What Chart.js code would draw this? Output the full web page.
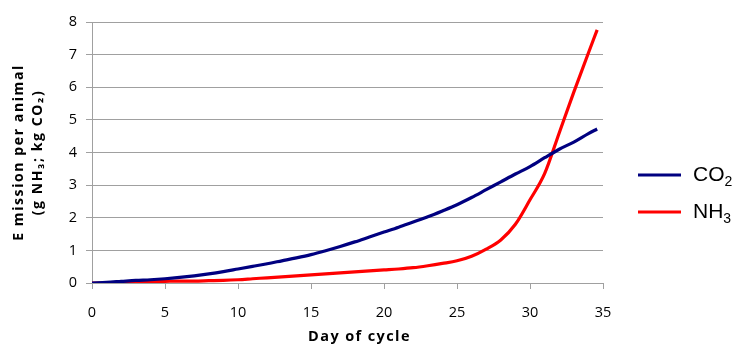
<!DOCTYPE html>
<html>
<head>
<meta charset="utf-8">
<script src="https://cdn.jsdelivr.net/npm/chart.js@4/dist/chart.umd.min.js"></script>
<style>
  html, body { margin: 0; padding: 0; background: #fff; }
  #wrap { width: 743px; height: 347px; position: relative; }
</style>
</head>
<body>
<div id="wrap"><canvas id="c" width="743" height="347"></canvas></div>
<script>
// Day of the production cycle
const days = [0, 1, 2, 3, 4, 5, 6, 7, 8, 9, 10, 11, 12, 13, 14, 15, 16, 17, 18, 19, 20,
  21, 22, 23, 24, 25, 26, 27, 28, 29, 30, 31, 32, 33, 34, 34.6];

// Cumulative CO2 emission per animal (kg)
const co2 = [0.00, 0.02, 0.05, 0.08, 0.10, 0.13, 0.17, 0.22, 0.28, 0.35, 0.43, 0.51, 0.59, 0.68,
  0.77, 0.87, 0.99, 1.12, 1.26, 1.41, 1.56, 1.71, 1.87, 2.03, 2.21, 2.40, 2.62, 2.86, 3.10,
  3.34, 3.57, 3.84, 4.10, 4.32, 4.58, 4.72];

// Cumulative NH3 emission per animal (g)
const nh3 = [0.00, 0.00, 0.01, 0.03, 0.04, 0.05, 0.06, 0.06, 0.07, 0.08, 0.10, 0.13, 0.16, 0.19,
  0.22, 0.25, 0.28, 0.31, 0.34, 0.37, 0.40, 0.43, 0.47, 0.53, 0.60, 0.68, 0.82, 1.04, 1.32,
  1.80, 2.55, 3.35, 4.60, 5.85, 7.05, 7.76];

const seriesNames = [['CO', '2'], ['NH', '3']];
const seriesColors = ['#000080', '#ff0000'];

const xTicks = [0, 5, 10, 15, 20, 25, 30, 35];
const yTicks = [0, 1, 2, 3, 4, 5, 6, 7, 8];

const xTitle = 'Day of cycle';
const yTitle = ['E mission per animal', '(g NH\u2083; kg CO\u2082)'];

const toPoints = (ys) => days.map((d, i) => ({ x: d, y: ys[i] }));

// Letter-spaced axis titles and a right-hand legend with subscripted formulas
const chartText = {
  id: 'chartText',
  afterDraw(chart) {
    const ctx = chart.ctx;
    const area = chart.chartArea;
    ctx.save();
    ctx.fillStyle = '#000';
    ctx.textAlign = 'center';
    ctx.textBaseline = 'middle';

    // x-axis title
    ctx.font = 'bold 14.5px "Open Sans", sans-serif';
    ctx.letterSpacing = '1.4px';
    ctx.fillText(xTitle, (area.left + area.right) / 2 + 12, 337);

    // y-axis title, two rotated lines
    ctx.font = 'bold 14px "Open Sans", sans-serif';
    ctx.letterSpacing = '1.6px';
    const cy = (area.top + area.bottom) / 2;
    [19, 38].forEach((lx, i) => {
      ctx.save();
      ctx.translate(lx, cy);
      ctx.rotate(-Math.PI / 2);
      ctx.fillText(yTitle[i], 0, 0);
      ctx.restore();
    });
    ctx.letterSpacing = '0px';

    // legend
    const x0 = 638, lineLen = 43, rowY = [175, 212];
    chart.data.datasets.forEach((ds, i) => {
      const y = rowY[i];
      ctx.strokeStyle = ds.borderColor;
      ctx.lineWidth = 3;
      ctx.beginPath();
      ctx.moveTo(x0, y);
      ctx.lineTo(x0 + lineLen, y);
      ctx.stroke();
      const [main, sub] = seriesNames[i];
      ctx.textAlign = 'left';
      ctx.font = '21px "Liberation Sans", Arial, sans-serif';
      const tx = 693;
      ctx.fillText(main, tx, y);
      const w = ctx.measureText(main).width;
      ctx.font = '14px "Liberation Sans", Arial, sans-serif';
      ctx.fillText(sub, tx + w, y + 7);
    });
    ctx.restore();
  }
};

new Chart(document.getElementById('c'), {
  type: 'line',
  data: {
    datasets: [
      { label: 'CO2', data: toPoints(co2), borderColor: seriesColors[0], borderWidth: 3.2,
        pointRadius: 0, cubicInterpolationMode: 'monotone', fill: false },
      { label: 'NH3', data: toPoints(nh3), borderColor: seriesColors[1], borderWidth: 3.2,
        pointRadius: 0, cubicInterpolationMode: 'monotone', fill: false }
    ]
  },
  options: {
    responsive: false,
    animation: false,
    layout: { padding: { left: 52, right: 140, top: 22, bottom: 0 } },
    plugins: { legend: { display: false }, tooltip: { enabled: false } },
    scales: {
      x: {
        type: 'linear', min: 0, max: 35,
        afterBuildTicks: (axis) => { axis.ticks = xTicks.map(v => ({ value: v })); },
        afterFit: (axis) => { axis.height = 64; },
        grid: { drawOnChartArea: false, drawTicks: true, tickLength: 6, color: '#a0a0a0' },
        border: { color: '#a0a0a0', width: 1 },
        ticks: { color: '#000', font: { family: '"Open Sans", sans-serif', size: 14.5 }, padding: 15, maxRotation: 0 }
      },
      y: {
        min: 0, max: 8,
        afterBuildTicks: (axis) => { axis.ticks = yTicks.map(v => ({ value: v })); },
        afterFit: (axis) => { axis.width = 40; },
        grid: { color: '#a0a0a0', tickLength: 6, lineWidth: 1 },
        border: { color: '#a0a0a0', width: 1 },
        ticks: { color: '#000', font: { family: '"Open Sans", sans-serif', size: 14.5 }, padding: 9 }
      }
    }
  },
  plugins: [chartText]
});
</script>
</body>
</html>
